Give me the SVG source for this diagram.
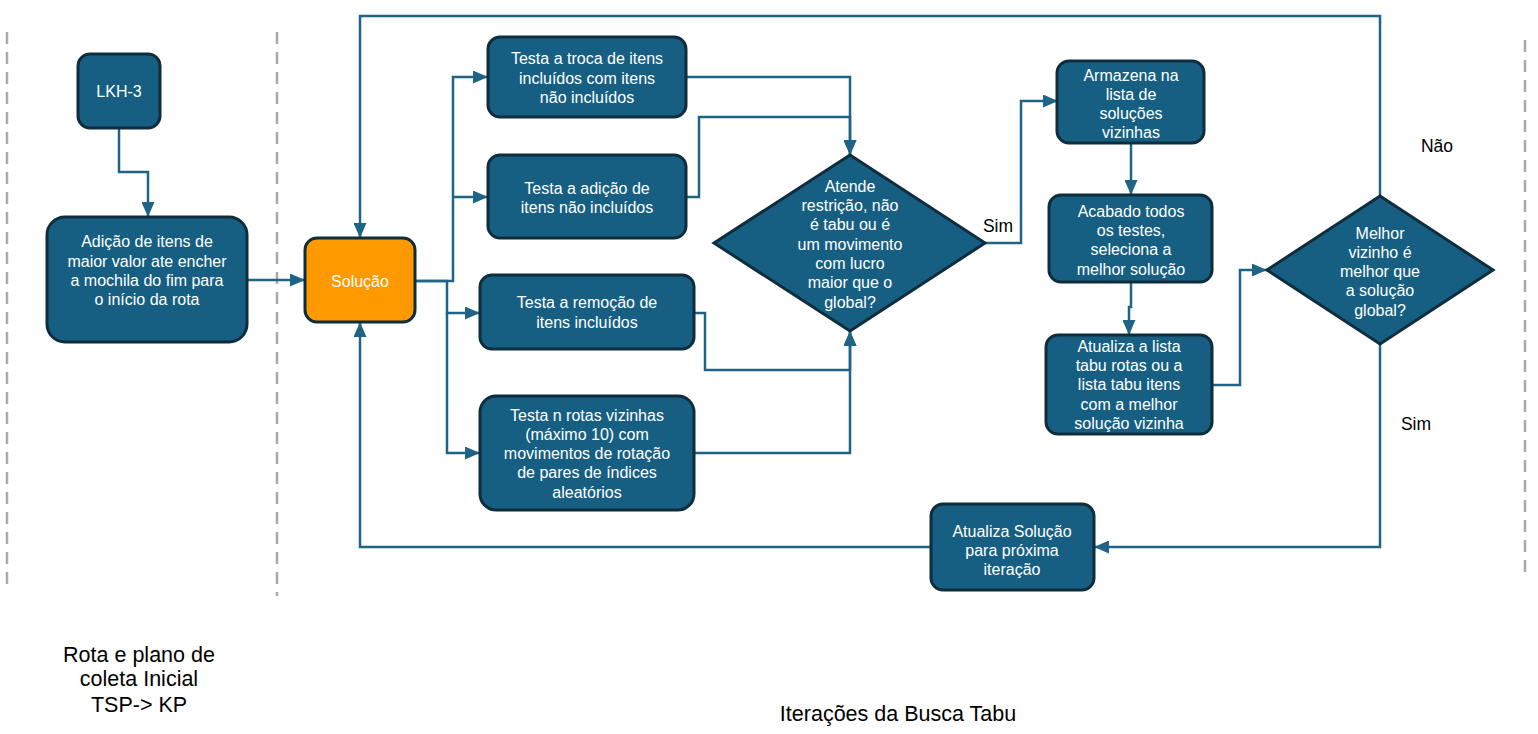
<svg xmlns="http://www.w3.org/2000/svg" width="1538" height="734" viewBox="0 0 1538 734">
<style>
.n{fill:#175f82;stroke:#0f2d3c;stroke-width:3}
.o{fill:#ff9900;stroke:#0f2d3c;stroke-width:3}
.t{font-family:"Liberation Sans",Arial,sans-serif;font-size:16px;fill:#ffffff;text-anchor:middle}
.l{font-family:"Liberation Sans",Arial,sans-serif;font-size:17.5px;fill:#000000;text-anchor:middle}
.b{font-family:"Liberation Sans",Arial,sans-serif;font-size:21.5px;fill:#000000;text-anchor:middle}
.c{fill:none;stroke:#1f6487;stroke-width:2.5}
.d{fill:none;stroke:#aaaaaa;stroke-width:2.5;stroke-dasharray:12 8}
</style>
<defs>
<marker id="a" markerUnits="userSpaceOnUse" markerWidth="15" markerHeight="13" refX="15" refY="6.5" orient="auto">
<path d="M0,0 L15,6.5 L0,13 z" fill="#1f6487"/>
</marker>
</defs>
<rect width="1538" height="734" fill="#ffffff"/>
<g id="dividers">
<line class="d" x1="7" y1="32" x2="7" y2="592"/>
<line class="d" x1="277" y1="32" x2="277" y2="596"/>
<line class="d" x1="1525" y1="40" x2="1525" y2="578"/>
</g>
<g id="connectors">
<path class="c" d="M119,128 V172 H148 V217" marker-end="url(#a)"/>
<path class="c" d="M247,280 H305" marker-end="url(#a)"/>
<path class="c" d="M1380,196 V16 H360 V238" marker-end="url(#a)"/>
<path class="c" d="M931,547 H360 V322" marker-end="url(#a)"/>
<path class="c" d="M415,281 H453 V77 H488" marker-end="url(#a)"/>
<path class="c" d="M453,197 H488" marker-end="url(#a)"/>
<path class="c" d="M415,281 H447 V313 H480" marker-end="url(#a)"/>
<path class="c" d="M447,313 V453 H480" marker-end="url(#a)"/>
<path class="c" d="M686,77 H850 V155" marker-end="url(#a)"/>
<path class="c" d="M686,197 H699 V117 H850 V155" marker-end="url(#a)"/>
<path class="c" d="M694,313 H705 V370 H850 V331" marker-end="url(#a)"/>
<path class="c" d="M694,453 H850 V331" marker-end="url(#a)"/>
<path class="c" d="M985,243 H1021 V101 H1058" marker-end="url(#a)"/>
<path class="c" d="M1131,143 V195" marker-end="url(#a)"/>
<path class="c" d="M1131,282 V307 H1129 V335" marker-end="url(#a)"/>
<path class="c" d="M1212,385 H1240 V270 H1267" marker-end="url(#a)"/>
<path class="c" d="M1380,344 V547 H1094" marker-end="url(#a)"/>
</g>
<g id="labels">
<text class="l" x="998" y="232">Sim</text>
<text class="l" x="1437" y="152">Não</text>
<text class="l" x="1416" y="430">Sim</text>
</g>
<g id="lkh3">
<rect class="n" x="78" y="54" width="82" height="74" rx="12"/>
<text class="t" x="119" y="97">LKH-3</text>
</g>
<g id="adicao">
<rect class="n" x="47" y="217" width="200" height="125" rx="18"/>
<text class="t" x="147" y="247">Adição de itens de</text>
<text class="t" x="147" y="267">maior valor ate encher</text>
<text class="t" x="147" y="286">a mochila do fim para</text>
<text class="t" x="147" y="305">o início da rota</text>
</g>
<g id="solucao">
<rect class="o" x="305" y="238" width="110" height="84" rx="12"/>
<text class="t" x="360" y="287">Solução</text>
</g>
<g id="troca">
<rect class="n" x="488" y="37" width="198" height="80" rx="12"/>
<text class="t" x="587" y="64">Testa a troca de itens</text>
<text class="t" x="587" y="84">incluídos com itens</text>
<text class="t" x="587" y="103">não incluídos</text>
</g>
<g id="adicao-teste">
<rect class="n" x="488" y="155" width="198" height="83" rx="12"/>
<text class="t" x="587" y="194">Testa a adição de</text>
<text class="t" x="587" y="213">itens não incluídos</text>
</g>
<g id="remocao">
<rect class="n" x="480" y="275" width="214" height="74" rx="12"/>
<text class="t" x="587" y="308">Testa a remoção de</text>
<text class="t" x="587" y="328">itens incluídos</text>
</g>
<g id="rotas">
<rect class="n" x="480" y="396" width="214" height="114" rx="16"/>
<text class="t" x="587" y="421">Testa n rotas vizinhas</text>
<text class="t" x="587" y="440">(máximo 10) com</text>
<text class="t" x="587" y="459">movimentos de rotação</text>
<text class="t" x="587" y="478">de pares de índices</text>
<text class="t" x="587" y="498">aleatórios</text>
</g>
<g id="restricao">
<polygon class="n" points="850,155 985,243 850,331 714,243" stroke-width="2.5"/>
<text class="t" x="850" y="192">Atende</text>
<text class="t" x="850" y="211">restrição, não</text>
<text class="t" x="850" y="230">é tabu ou é</text>
<text class="t" x="850" y="250">um movimento</text>
<text class="t" x="850" y="269">com lucro</text>
<text class="t" x="850" y="288">maior que o</text>
<text class="t" x="850" y="308">global?</text>
</g>
<g id="armazena">
<rect class="n" x="1057" y="61" width="147" height="82" rx="12"/>
<text class="t" x="1131" y="81">Armazena na</text>
<text class="t" x="1131" y="100">lista de</text>
<text class="t" x="1131" y="119">soluções</text>
<text class="t" x="1131" y="138">vizinhas</text>
</g>
<g id="acabado">
<rect class="n" x="1049" y="195" width="163" height="87" rx="12"/>
<text class="t" x="1131" y="217">Acabado todos</text>
<text class="t" x="1131" y="236">os testes,</text>
<text class="t" x="1131" y="255">seleciona a</text>
<text class="t" x="1131" y="275">melhor solução</text>
</g>
<g id="atualiza-lista">
<rect class="n" x="1046" y="335" width="166" height="99" rx="12"/>
<text class="t" x="1129" y="352">Atualiza a lista</text>
<text class="t" x="1129" y="371">tabu rotas ou a</text>
<text class="t" x="1129" y="390">lista tabu itens</text>
<text class="t" x="1129" y="410">com a melhor</text>
<text class="t" x="1129" y="429">solução vizinha</text>
</g>
<g id="melhor">
<polygon class="n" points="1380,196 1493,270 1380,344 1267,270" stroke-width="2.5"/>
<text class="t" x="1380" y="239">Melhor</text>
<text class="t" x="1380" y="258">vizinho é</text>
<text class="t" x="1380" y="277">melhor que</text>
<text class="t" x="1380" y="296">a solução</text>
<text class="t" x="1380" y="316">global?</text>
</g>
<g id="atualiza-solucao">
<rect class="n" x="931" y="504" width="163" height="86" rx="12"/>
<text class="t" x="1012" y="537">Atualiza Solução</text>
<text class="t" x="1012" y="556">para próxima</text>
<text class="t" x="1012" y="575">iteração</text>
</g>
<g id="captions">
<text class="b" x="139" y="662">Rota e plano de</text>
<text class="b" x="139" y="686">coleta Inicial</text>
<text class="b" x="139" y="712">TSP-&gt; KP</text>
<text class="b" x="898" y="721">Iterações da Busca Tabu</text>
</g>
</svg>
